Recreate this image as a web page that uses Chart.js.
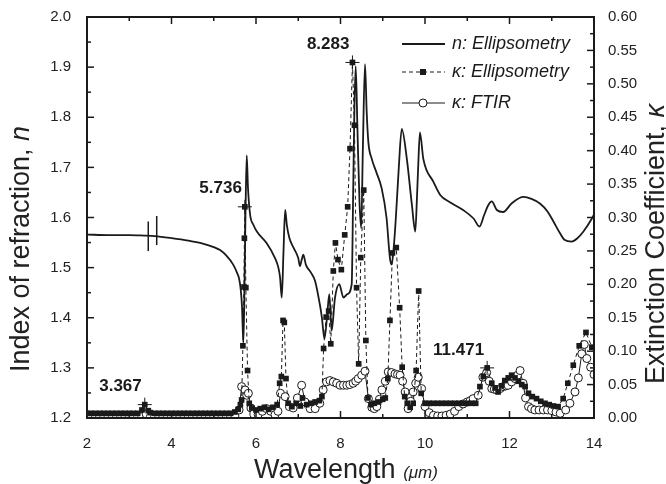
<!DOCTYPE html>
<html>
<head>
<meta charset="utf-8">
<script src="https://cdn.jsdelivr.net/npm/chart.js@4.4.1/dist/chart.umd.min.js"></script>
<style>
  html, body { margin: 0; padding: 0; background: #fff; }
  #wrap { width: 666px; height: 484px; }
</style>
</head>
<body>
<div id="wrap"><canvas id="chart" width="666" height="484"></canvas></div>
<script>
// n: Ellipsometry (wavelength in um, index of refraction)
const nWave = [2.0, 2.5, 3.0, 3.35, 3.6, 4.0, 4.4, 4.7, 5.0, 5.15, 5.3, 5.46, 5.55, 5.6, 5.64, 5.67, 5.70, 5.72, 5.75, 5.78,
  5.81, 5.86, 5.94, 6.02, 6.25, 6.45, 6.53, 6.57, 6.61, 6.65, 6.69, 6.73, 6.79, 6.9, 7.0, 7.04, 7.08, 7.12, 7.18, 7.3,
  7.40, 7.51, 7.56, 7.62, 7.68, 7.735, 7.79, 7.87, 7.97, 8.07, 8.16, 8.265, 8.30, 8.33, 8.36, 8.40, 8.45, 8.49, 8.53, 8.58,
  8.62, 8.66, 8.74, 8.85, 8.975, 9.09, 9.17, 9.21, 9.26, 9.31, 9.38, 9.45, 9.57, 9.69, 9.77, 9.81, 9.84, 9.88, 9.96, 10.2,
  10.36, 10.6, 10.9, 11.15, 11.29, 11.40, 11.50, 11.58, 11.70, 11.85, 12.05, 12.33, 12.52, 12.72, 12.9, 13.04, 13.2, 13.31, 13.47, 13.6,
  13.75, 13.95, 14.0];
const nIndex = [1.566, 1.565, 1.565, 1.564, 1.563, 1.559, 1.554, 1.549, 1.541, 1.535, 1.524, 1.506, 1.49, 1.478, 1.455, 1.42, 1.35, 1.42, 1.60, 1.724,
  1.66, 1.606, 1.585, 1.572, 1.549, 1.519, 1.50, 1.48, 1.44, 1.53, 1.615, 1.585, 1.559, 1.538, 1.519, 1.503, 1.515, 1.526, 1.506, 1.49,
  1.473, 1.427, 1.40, 1.358, 1.40, 1.447, 1.374, 1.44, 1.467, 1.44, 1.447, 1.467, 1.65, 1.82, 1.902, 1.78, 1.63, 1.579, 1.74, 1.906,
  1.81, 1.75, 1.717, 1.69, 1.658, 1.599, 1.519, 1.506, 1.54, 1.599, 1.70, 1.777, 1.717, 1.625, 1.572, 1.64, 1.704, 1.77, 1.717, 1.671,
  1.645, 1.63, 1.615, 1.598, 1.582, 1.605, 1.625, 1.632, 1.615, 1.611, 1.628, 1.641, 1.637, 1.628, 1.612, 1.592, 1.568, 1.555, 1.552, 1.558,
  1.572, 1.598, 1.606];

// kappa: Ellipsometry
const kEllWave = [2.0, 2.1, 2.2, 2.3, 2.4, 2.5, 2.6, 2.7, 2.8, 2.9, 3.0, 3.1, 3.2, 3.3, 3.367, 3.45, 3.5,
  3.6, 3.7, 3.8, 3.9, 4.0, 4.1, 4.2, 4.3, 4.4, 4.5, 4.6, 4.7, 4.8, 4.9, 5.0, 5.1, 5.2, 5.3, 5.4,
  5.5, 5.58, 5.63, 5.66, 5.69, 5.715, 5.725, 5.736, 5.76, 5.80, 5.84, 5.9, 6.0, 6.1, 6.2, 6.3, 6.4, 6.5,
  6.56, 6.60, 6.64, 6.67, 6.71, 6.76, 6.85, 6.95, 7.05, 7.1, 7.2, 7.3, 7.4, 7.5, 7.56,
  7.60, 7.66, 7.72, 7.77, 7.83, 7.88, 7.94, 8.02, 8.10, 8.17, 8.225, 8.283, 8.33, 8.38, 8.43, 8.48, 8.55, 8.60, 8.65,
  8.72, 8.8, 8.9, 9.0, 9.06, 9.12, 9.17, 9.23, 9.32, 9.40, 9.46, 9.52, 9.58, 9.65, 9.72, 9.79, 9.85, 9.91,
  10.0, 10.1, 10.2, 10.3, 10.4, 10.5, 10.6, 10.7, 10.8, 10.9, 11.0, 11.1, 11.2,
  11.30, 11.38, 11.471, 11.58, 11.66, 11.73, 11.81, 11.89, 11.97, 12.05, 12.13, 12.21, 12.29, 12.37, 12.45, 12.54,
  12.64, 12.74, 12.84, 12.94, 13.04, 13.15, 13.27, 13.38, 13.51, 13.65, 13.81, 13.95];
const kEllVal = [0.007, 0.007, 0.007, 0.007, 0.007, 0.007, 0.007, 0.007, 0.007, 0.007, 0.007, 0.007, 0.007, 0.012, 0.02, 0.011, 0.008,
  0.007, 0.007, 0.007, 0.007, 0.007, 0.007, 0.007, 0.007, 0.007, 0.007, 0.007, 0.007, 0.007, 0.007, 0.007, 0.007, 0.007, 0.007, 0.007,
  0.009, 0.013, 0.02, 0.027, 0.108, 0.196, 0.269, 0.316, 0.195, 0.071, 0.022, 0.015, 0.012, 0.014, 0.016, 0.013, 0.016, 0.02,
  0.052, 0.062, 0.146, 0.143, 0.059, 0.022, 0.017, 0.022, 0.018, 0.03, 0.02, 0.022, 0.024, 0.026, 0.032,
  0.104, 0.151, 0.16, 0.111, 0.22, 0.262, 0.237, 0.222, 0.274, 0.316, 0.403, 0.532, 0.438, 0.195, 0.081, 0.24, 0.341, 0.116, 0.03,
  0.02, 0.022, 0.024, 0.028, 0.03, 0.059, 0.146, 0.247, 0.255, 0.165, 0.076, 0.032, 0.022, 0.016, 0.022, 0.071, 0.19, 0.037,
  0.022, 0.022, 0.022, 0.022, 0.022, 0.022, 0.022, 0.022, 0.022, 0.022, 0.022, 0.022, 0.022,
  0.047, 0.062, 0.075, 0.052, 0.045, 0.039, 0.048, 0.056, 0.06, 0.064, 0.06, 0.055, 0.05, 0.047, 0.037, 0.032,
  0.029, 0.025, 0.022, 0.02, 0.018, 0.017, 0.029, 0.052, 0.079, 0.108, 0.128, 0.106];

// kappa: FTIR
const kFtirWave = [2.0, 2.1, 2.2, 2.3, 2.4, 2.5, 2.6, 2.7, 2.8, 2.9, 3.0, 3.1, 3.2, 3.3, 3.4, 3.5, 3.6, 3.7, 3.8, 3.9,
  4.0, 4.1, 4.2, 4.3, 4.4, 4.5, 4.6, 4.7, 4.8, 4.9, 5.0, 5.1, 5.2, 5.3, 5.4,
  5.5, 5.6, 5.66, 5.74, 5.78, 5.82, 5.88, 5.95, 6.05, 6.15, 6.25, 6.35, 6.45, 6.52, 6.58, 6.69, 6.79, 6.88, 6.98, 7.08,
  7.16, 7.28, 7.40, 7.51, 7.59, 7.67, 7.75, 7.83, 7.91, 7.99, 8.07, 8.15, 8.22, 8.30, 8.36, 8.42, 8.50, 8.58, 8.66, 8.74,
  8.80, 8.86, 8.92, 8.98, 9.06, 9.13, 9.21, 9.29, 9.35, 9.41, 9.47, 9.53, 9.60, 9.66, 9.72, 9.78, 9.84, 9.92, 10.0, 10.1,
  10.2, 10.3, 10.4, 10.5, 10.6, 10.7, 10.8, 10.9, 11.0, 11.07, 11.14, 11.26, 11.37, 11.46, 11.52, 11.58, 11.64, 11.70, 11.78, 11.85,
  11.91, 11.97, 12.05, 12.13, 12.19, 12.25, 12.32, 12.38, 12.45, 12.52, 12.60, 12.70, 12.80, 12.90, 13.0, 13.1, 13.2, 13.33, 13.43, 13.55,
  13.63, 13.71, 13.77, 13.83, 13.92, 14.0];
const kFtirVal = [0.002, 0.002, 0.002, 0.002, 0.002, 0.002, 0.002, 0.002, 0.002, 0.002, 0.002, 0.002, 0.002, 0.002, 0.006, 0.002, 0.002, 0.002, 0.002, 0.002,
  0.002, 0.002, 0.002, 0.002, 0.002, 0.002, 0.002, 0.002, 0.002, 0.002, 0.002, 0.002, 0.002, 0.002, 0.002,
  0.003, 0.012, 0.047, 0.042, 0.034, 0.037, 0.015, 0.006, 0.005, 0.01, 0.014, 0.01, 0.005, 0.01, 0.037, 0.032, 0.017, 0.015, 0.03, 0.049,
  0.024, 0.014, 0.014, 0.022, 0.042, 0.054, 0.056, 0.054, 0.052, 0.049, 0.049, 0.049, 0.05, 0.052, 0.055, 0.059, 0.064, 0.070, 0.029, 0.016,
  0.014, 0.017, 0.028, 0.042, 0.055, 0.069, 0.068, 0.066, 0.065, 0.064, 0.055, 0.039, 0.014, 0.025, 0.039, 0.052, 0.061, 0.044, 0.017, 0.008,
  0.004, 0.003, 0.003, 0.004, 0.006, 0.01, 0.017, 0.021, 0.024, 0.026, 0.029, 0.034, 0.061, 0.068, 0.055, 0.044, 0.043, 0.042, 0.044, 0.047,
  0.048, 0.049, 0.054, 0.059, 0.064, 0.071, 0.052, 0.03, 0.017, 0.014, 0.012, 0.012, 0.012, 0.012, 0.011, 0.009, 0.007, 0.012, 0.022, 0.039,
  0.06, 0.096, 0.11, 0.089, 0.076, 0.065];

// marked absorption peaks
const peakWave = [3.367, 5.736, 8.283, 11.471];
const peakK = [0.02, 0.316, 0.532, 0.075];

const legendLabels = ['n: Ellipsometry', 'κ: Ellipsometry', 'κ: FTIR'];

const FONT = '"Liberation Sans", Arial, sans-serif';
const INK = '#1a1a1a';

const toPoints = (xs, ys) => xs.map((x, i) => ({ x: x, y: ys[i] }));

function seg(ctx, x1, y1, x2, y2) {
    ctx.beginPath();
    ctx.moveTo(x1, y1);
    ctx.lineTo(x2, y2);
    ctx.stroke();
}

// frame, inward ticks, axis titles, legend, peak labels
const decorations = {
    id: 'decorations',
    afterDatasetsDraw(chart) {
        const { ctx, chartArea: a } = chart;
        const sx = chart.scales.x, sy = chart.scales.y, sk = chart.scales.y1;
        ctx.save();
        ctx.strokeStyle = INK;
        ctx.lineWidth = 1.5;

        // x ticks, bottom and top
        for (let v = 2; v <= 14; v++) {
            const px = sx.getPixelForValue(v);
            const len = v % 2 === 0 ? 7 : 4;
            seg(ctx, px, a.bottom, px, a.bottom - len);
            seg(ctx, px, a.top, px, a.top + len);
        }
        // left ticks (n)
        for (let i = 0; i <= 16; i++) {
            const py = sy.getPixelForValue(1.2 + i * 0.05);
            seg(ctx, a.left, py, a.left + (i % 2 === 0 ? 7 : 4), py);
        }
        // right ticks (kappa)
        for (let i = 0; i <= 24; i++) {
            const py = sk.getPixelForValue(i * 0.025);
            seg(ctx, a.right, py, a.right - (i % 2 === 0 ? 7 : 4), py);
        }
        ctx.lineWidth = 2;
        ctx.strokeRect(a.left, a.top, a.right - a.left, a.bottom - a.top);

        // axis break marks on the n curve
        ctx.lineWidth = 1.5;
        seg(ctx, sx.getPixelForValue(3.45), sy.getPixelForValue(1.533), sx.getPixelForValue(3.45), sy.getPixelForValue(1.592));
        seg(ctx, sx.getPixelForValue(3.65), sy.getPixelForValue(1.545), sx.getPixelForValue(3.65), sy.getPixelForValue(1.603));

        // peak labels
        ctx.fillStyle = INK;
        ctx.font = 'bold 17px ' + FONT;
        ctx.textAlign = 'right';
        ctx.textBaseline = 'middle';
        peakWave.forEach((w, i) => {
            ctx.fillText(w.toFixed(3), sx.getPixelForValue(w) - 3, sk.getPixelForValue(peakK[i]) - 18);
        });

        // legend
        const lx1 = 402, lx2 = 445, rows = [44, 72, 103];
        ctx.textAlign = 'left';
        ctx.font = 'italic 18px ' + FONT;
        rows.forEach((ry, i) => {
            ctx.lineWidth = i === 0 ? 1.8 : 1;
            ctx.setLineDash(i === 1 ? [4, 3] : []);
            seg(ctx, lx1, ry, lx2, ry);
            ctx.setLineDash([]);
            if (i === 1) {
                ctx.fillStyle = INK;
                ctx.fillRect(420, ry - 3, 6, 6);
            } else if (i === 2) {
                ctx.beginPath();
                ctx.arc(423, ry, 4, 0, Math.PI * 2);
                ctx.fillStyle = '#fff';
                ctx.fill();
                ctx.lineWidth = 1;
                ctx.stroke();
            }
            ctx.fillStyle = INK;
            ctx.fillText(legendLabels[i], 452, ry);
        });

        // axis titles
        ctx.textBaseline = 'alphabetic';
        const titleParts = (parts, cx, cy, rotate) => {
            ctx.save();
            ctx.translate(cx, cy);
            if (rotate) ctx.rotate(-Math.PI / 2);
            let total = 0;
            parts.forEach(p => { ctx.font = p[1]; total += ctx.measureText(p[0]).width; });
            let x = -total / 2;
            parts.forEach(p => {
                ctx.font = p[1];
                ctx.fillText(p[0], x, 0);
                x += ctx.measureText(p[0]).width;
            });
            ctx.restore();
        };
        ctx.fillStyle = '#222';
        titleParts([['Index of refraction, ', '27px ' + FONT], ['n', 'italic 27px ' + FONT]], 29, 249, true);
        titleParts([['Extinction Coefficient, ', '27px ' + FONT], ['κ', 'italic 27px ' + FONT]], 664, 244, true);
        titleParts([['Wavelength ', '27px ' + FONT], ['(μm)', 'italic 17px ' + FONT]], 346, 478, false);

        ctx.restore();
    }
};

const tickFont = { family: FONT, size: 15 };

new Chart(document.getElementById('chart'), {
    type: 'scatter',
    data: {
        datasets: [
            {
                // peak cross marks
                data: toPoints(peakWave, peakK),
                yAxisID: 'y1',
                showLine: false,
                pointStyle: 'cross',
                pointRadius: 7,
                borderColor: INK,
                borderWidth: 1,
            },
            {
                label: legendLabels[0],
                data: toPoints(nWave, nIndex),
                yAxisID: 'y',
                showLine: true,
                borderColor: INK,
                borderWidth: 1.8,
                pointRadius: 0,
                cubicInterpolationMode: 'monotone',
            },
            {
                label: legendLabels[1],
                data: toPoints(kEllWave, kEllVal),
                yAxisID: 'y1',
                showLine: true,
                borderColor: INK,
                borderWidth: 1,
                borderDash: [4, 3],
                pointStyle: 'rect',
                pointRadius: 4,
                pointBackgroundColor: INK,
                pointBorderColor: INK,
                pointBorderWidth: 0,
                clip: 0,
            },
            {
                label: legendLabels[2],
                data: toPoints(kFtirWave, kFtirVal),
                yAxisID: 'y1',
                showLine: true,
                borderColor: INK,
                borderWidth: 1,
                pointStyle: 'circle',
                pointRadius: 4,
                pointBackgroundColor: '#fff',
                pointBorderColor: INK,
                pointBorderWidth: 1,
                clip: 0,
            }
        ]
    },
    options: {
        responsive: false,
        animation: false,
        events: [],
        layout: { padding: { top: 14, left: 0, right: 0, bottom: 0 } },
        plugins: {
            legend: { display: false },
            tooltip: { enabled: false }
        },
        scales: {
            x: {
                type: 'linear',
                min: 2,
                max: 14,
                ticks: { stepSize: 2, font: tickFont, color: '#222', padding: 9, autoSkip: false },
                grid: { display: false },
                border: { display: false },
                afterFit: (s) => { s.height = 66; }
            },
            y: {
                position: 'left',
                min: 1.2,
                max: 2.0,
                ticks: { stepSize: 0.1, font: tickFont, color: '#222', padding: 8, autoSkip: false,
                    callback: (v) => v.toFixed(1) },
                grid: { display: false },
                border: { display: false },
                afterFit: (s) => { s.width = 87; }
            },
            y1: {
                position: 'right',
                min: 0,
                max: 0.6,
                ticks: { stepSize: 0.05, font: tickFont, color: '#222', padding: 6, autoSkip: false,
                    callback: (v) => v.toFixed(2) },
                grid: { display: false },
                border: { display: false },
                afterFit: (s) => { s.width = 72; }
            }
        }
    },
    plugins: [decorations]
});
</script>
</body>
</html>
